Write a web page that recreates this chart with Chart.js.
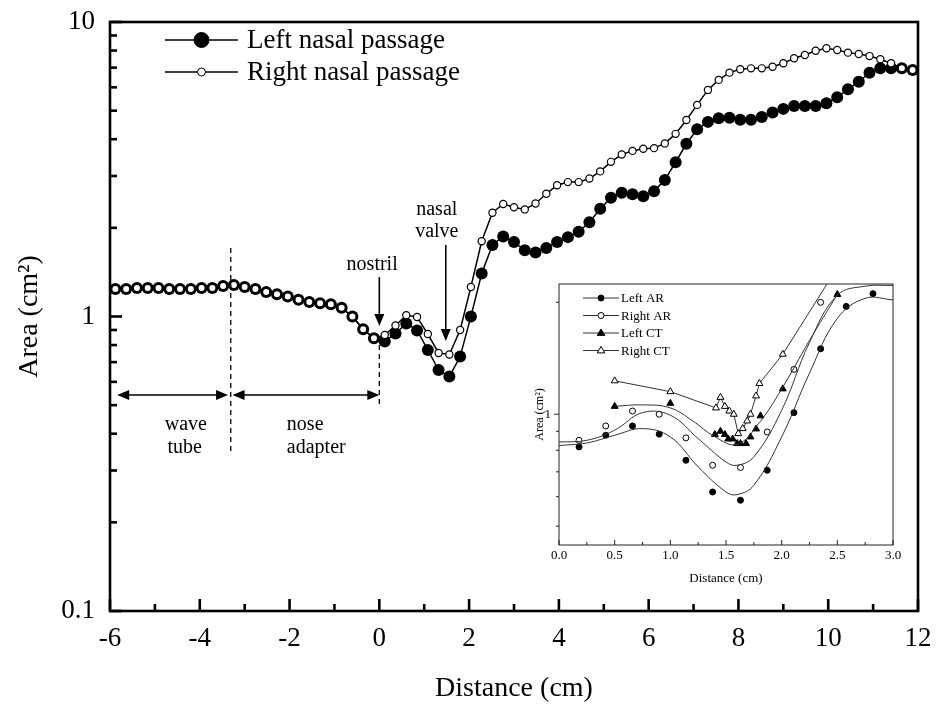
<!DOCTYPE html>
<html>
<head>
<meta charset="utf-8">
<title>Nasal cross-sectional area</title>
<script src="https://cdn.jsdelivr.net/npm/chart.js@4.4.0/dist/chart.umd.min.js"></script>
<style>
  body { margin: 0; background: #fff; }
  #wrap { position: relative; width: 944px; height: 705px; }
  #mainChart { position: absolute; left: 0; top: 0; }
  #insetChart { position: absolute; left: 500px; top: 274px; }
</style>
</head>
<body>
<div id="wrap">
  <canvas id="mainChart" width="944" height="705"></canvas>
  <canvas id="insetChart" width="410" height="326"></canvas>
</div>
<script>
// Main plot: acoustic area along the passage
const distance = [-5.88, -5.64, -5.40, -5.16, -4.92, -4.68, -4.44, -4.20, -3.96, -3.72,
  -3.48, -3.24, -3.00, -2.76, -2.52, -2.28, -2.04, -1.80, -1.56, -1.32,
  -1.08, -0.84, -0.60, -0.36, -0.12, 0.12, 0.36, 0.60, 0.84, 1.08,
  1.32, 1.56, 1.80, 2.04, 2.28, 2.52, 2.76, 3.00, 3.24, 3.48,
  3.72, 3.96, 4.20, 4.44, 4.68, 4.92, 5.16, 5.40, 5.64, 5.88,
  6.12, 6.36, 6.60, 6.84, 7.08, 7.32, 7.56, 7.80, 8.04, 8.28,
  8.52, 8.76, 9.00, 9.24, 9.48, 9.72, 9.96, 10.20, 10.44, 10.68,
  10.92, 11.16, 11.40, 11.64, 11.88];
const leftArea = [1.24, 1.24, 1.25, 1.25, 1.25, 1.24, 1.24, 1.24, 1.25, 1.25,
  1.27, 1.28, 1.26, 1.24, 1.21, 1.19, 1.17, 1.14, 1.12, 1.11,
  1.10, 1.07, 1.00, 0.905, 0.843, 0.822, 0.876, 0.947, 0.897, 0.770,
  0.658, 0.625, 0.731, 1.00, 1.40, 1.75, 1.87, 1.79, 1.68, 1.65,
  1.71, 1.79, 1.86, 1.94, 2.09, 2.32, 2.53, 2.63, 2.60, 2.56,
  2.66, 2.91, 3.34, 3.86, 4.32, 4.58, 4.71, 4.73, 4.66, 4.66,
  4.76, 4.93, 5.07, 5.19, 5.19, 5.19, 5.30, 5.55, 5.91, 6.27,
  6.73, 6.96, 6.96, 6.96, 6.87];
const rightArea = [1.24, 1.24, 1.25, 1.25, 1.25, 1.24, 1.24, 1.24, 1.25, 1.25,
  1.27, 1.28, 1.26, 1.24, 1.21, 1.19, 1.17, 1.14, 1.12, 1.11,
  1.10, 1.07, 1.00, 0.905, 0.843, 0.865, 0.932, 1.01, 0.996, 0.872,
  0.752, 0.743, 0.90, 1.26, 1.80, 2.25, 2.41, 2.35, 2.31, 2.42,
  2.61, 2.79, 2.86, 2.86, 2.94, 3.11, 3.35, 3.55, 3.65, 3.71,
  3.73, 3.87, 4.17, 4.65, 5.23, 5.88, 6.36, 6.73, 6.91, 6.96,
  6.96, 7.05, 7.24, 7.53, 7.73, 7.99, 8.14, 8.03, 7.87, 7.79,
  7.66, 7.47, 7.24, 6.96, 6.87];
const xTicks = [-6, -4, -2, 0, 2, 4, 6, 8, 10, 12];
const xMinorTicks = [-5, -3, -1, 1, 3, 5, 7, 9, 11];
const yTicks = [0.1, 1, 10];
const yMinorTicks = [0.2, 0.3, 0.4, 0.5, 0.6, 0.7, 0.8, 0.9, 2, 3, 4, 5, 6, 7, 8, 9];

// Inset: acoustic reflection (AR) vs CT
const leftArX = [0.18, 0.42, 0.66, 0.90, 1.14, 1.38, 1.63, 1.87, 2.11, 2.35, 2.58, 2.82];
const leftArY = [0.817, 0.878, 0.930, 0.884, 0.752, 0.618, 0.587, 0.707, 1.01, 1.50, 1.95, 2.11];
const rightArX = [0.18, 0.42, 0.66, 0.90, 1.14, 1.38, 1.63, 1.87, 2.11, 2.35];
const rightArY = [0.851, 0.930, 1.02, 1.00, 0.864, 0.729, 0.719, 0.896, 1.32, 2.00];
const leftCtX = [0.50, 1.00, 1.40, 1.45, 1.49, 1.52, 1.56, 1.60, 1.63, 1.68, 1.72, 1.77, 1.81, 2.01, 2.50];
const leftCtY = [1.05, 1.07, 0.882, 0.900, 0.882, 0.858, 0.858, 0.834, 0.834, 0.834, 0.869, 0.913, 0.990, 1.17, 2.10];
const rightCtX = [0.50, 1.00, 1.41, 1.45, 1.49, 1.53, 1.57, 1.61, 1.65, 1.69, 1.72, 1.77, 1.80, 2.01, 2.50];
const rightCtY = [1.23, 1.15, 1.04, 1.11, 1.05, 1.02, 1.00, 0.887, 0.915, 0.959, 1.00, 1.12, 1.21, 1.45, 2.48];
// fitted curves drawn through the AR / left CT points
const fitX = [0, 0.25, 0.5, 0.75, 1.0, 1.25, 1.5, 1.6, 1.75, 2.0, 2.25, 2.5, 2.75, 3.0];
const leftArFit = [0.824, 0.837, 0.878, 0.915, 0.869, 0.722, 0.618, 0.608, 0.644, 0.869, 1.29, 1.81, 2.05, 2.03];
const rightArFit = [0.842, 0.851, 0.906, 1.01, 0.994, 0.860, 0.744, 0.729, 0.768, 1.025, 1.56, 2.09, 2.21, 2.22];
const leftCtFitX = [0.5, 0.75, 1.0, 1.2, 1.4, 1.6, 1.8, 2.0, 2.25, 2.5];
const leftCtFit = [1.05, 1.06, 1.04, 0.96, 0.87, 0.83, 0.95, 1.17, 1.58, 2.10];
const insetXTicks = [0, 0.5, 1.0, 1.5, 2.0, 2.5, 3.0];
const insetXMinor = [0.25, 0.75, 1.25, 1.75, 2.25, 2.75];
const insetYTicks = [1];
const insetYMinor = [0.5, 0.6, 0.7, 0.8, 0.9, 2];

const SERIF = "'Liberation Serif', 'Times New Roman', serif";
const pts = (xs, ys) => xs.map((x, i) => ({ x: x, y: ys[i] }));

// Box around the plot plus tick marks at the given values
const frameTicks = {
    id: 'frameTicks',
    afterDraw(chart, args, o) {
        const { ctx, chartArea: a, scales } = chart;
        ctx.save();
        ctx.strokeStyle = o.color;
        ctx.lineWidth = o.width;
        ctx.strokeRect(a.left, a.top, a.right - a.left, a.bottom - a.top);
        const mark = (scale, vals, len, dir) => {
            vals.forEach(v => {
                const p = scale.getPixelForValue(v);
                ctx.beginPath();
                if (scale.axis === 'x') {
                    ctx.moveTo(p, a.bottom);
                    ctx.lineTo(p, a.bottom - len * dir);
                } else {
                    ctx.moveTo(a.left, p);
                    ctx.lineTo(a.left + len * dir, p);
                }
                ctx.stroke();
            });
        };
        mark(scales.x, o.xMajor, o.majorLen, o.xDir);
        mark(scales.x, o.xMinor, o.minorLen, o.xDir);
        mark(scales.y, o.yMajor, o.majorLen, o.yDir);
        mark(scales.y, o.yMinor, o.minorLen, o.yDir);
        ctx.restore();
    }
};

// Line + marker legend drawn inside the plot
const keyBox = {
    id: 'keyBox',
    afterDraw(chart, args, o) {
        const { ctx, chartArea: a } = chart;
        ctx.save();
        ctx.font = o.size + 'px ' + SERIF;
        ctx.textBaseline = 'middle';
        ctx.fillStyle = '#000';
        o.items.forEach((it, i) => {
            const y = a.top + o.top + i * o.gap;
            const x0 = a.left + o.left;
            ctx.strokeStyle = it.line;
            ctx.lineWidth = o.lineWidth;
            ctx.beginPath();
            ctx.moveTo(x0, y);
            ctx.lineTo(x0 + o.lineLen, y);
            ctx.stroke();
            const mx = x0 + o.lineLen / 2;
            ctx.beginPath();
            if (it.shape === 'triangle') {
                const r = it.r;
                ctx.moveTo(mx, y - r);
                ctx.lineTo(mx + r * 0.95, y + r * 0.6);
                ctx.lineTo(mx - r * 0.95, y + r * 0.6);
                ctx.closePath();
            } else {
                ctx.arc(mx, y, it.r, 0, Math.PI * 2);
            }
            ctx.fillStyle = it.fill ? '#000' : '#fff';
            ctx.fill();
            ctx.strokeStyle = '#000';
            ctx.lineWidth = 1;
            ctx.stroke();
            ctx.fillStyle = '#000';
            ctx.fillText(it.text, x0 + o.lineLen + o.textGap, y + 1);
        });
        ctx.restore();
    }
};

// Guides, arrows and notes on the main plot, placed in axis units
const notes = {
    id: 'notes',
    afterDraw(chart, args, o) {
        const { ctx, scales: { x, y } } = chart;
        const head = (tx, ty, ang) => {
            ctx.save();
            ctx.translate(tx, ty);
            ctx.rotate(ang);
            ctx.beginPath();
            ctx.moveTo(0, 0);
            ctx.lineTo(-12, -5);
            ctx.lineTo(-12, 5);
            ctx.closePath();
            ctx.fill();
            ctx.restore();
        };
        ctx.save();
        ctx.strokeStyle = '#000';
        ctx.fillStyle = '#000';
        ctx.lineWidth = 1.3;
        ctx.setLineDash([5, 4]);
        o.guides.forEach(g => {
            const px = x.getPixelForValue(g[0]);
            ctx.beginPath();
            ctx.moveTo(px, y.getPixelForValue(g[1]));
            ctx.lineTo(px, y.getPixelForValue(g[2]));
            ctx.stroke();
        });
        ctx.setLineDash([]);
        ctx.lineWidth = 1.6;
        o.spans.forEach(s => {
            const x1 = x.getPixelForValue(s[0]), x2 = x.getPixelForValue(s[1]);
            const py = y.getPixelForValue(s[2]);
            ctx.beginPath();
            ctx.moveTo(x1 + 6, py);
            ctx.lineTo(x2 - 6, py);
            ctx.stroke();
            head(x1, py, Math.PI);
            head(x2, py, 0);
        });
        o.pointers.forEach(p => {
            const px = x.getPixelForValue(p[0]);
            const y1 = y.getPixelForValue(p[1]), y2 = y.getPixelForValue(p[2]);
            ctx.beginPath();
            ctx.moveTo(px, y1);
            ctx.lineTo(px, y2 - 6);
            ctx.stroke();
            head(px, y2, Math.PI / 2);
        });
        ctx.font = o.size + 'px ' + SERIF;
        ctx.textBaseline = 'middle';
        o.labels.forEach(l => {
            ctx.textAlign = l[3];
            ctx.fillText(l[0], x.getPixelForValue(l[1]), y.getPixelForValue(l[2]));
        });
        ctx.restore();
    }
};

const mainChart = new Chart(document.getElementById('mainChart'), {
    type: 'scatter',
    data: {
        datasets: [{
            label: 'Left nasal passage',
            data: pts(distance, leftArea),
            showLine: true,
            borderColor: '#000',
            borderWidth: 1.5,
            pointRadius: 6,
            pointBackgroundColor: '#000',
            pointBorderColor: '#000',
            pointBorderWidth: 0,
            order: 2
        }, {
            label: 'Right nasal passage',
            data: pts(distance, rightArea),
            showLine: true,
            borderColor: '#000',
            borderWidth: 1.5,
            pointRadius: 3.6,
            pointBackgroundColor: '#fff',
            pointBorderColor: '#000',
            pointBorderWidth: 1.2,
            order: 1
        }]
    },
    options: {
        responsive: false,
        animation: false,
        events: [],
        layout: { padding: { top: 22, right: 26, left: 0, bottom: 0 } },
        plugins: {
            legend: { display: false },
            tooltip: { enabled: false },
            frameTicks: {
                color: '#000', width: 2.6, majorLen: 12, minorLen: 7, xDir: 1, yDir: 1,
                xMajor: xTicks, xMinor: xMinorTicks, yMajor: yTicks, yMinor: yMinorTicks
            },
            keyBox: {
                size: 27, top: 18, gap: 32, left: 55, lineLen: 73, textGap: 9, lineWidth: 1.4,
                items: [
                    { text: 'Left nasal passage', shape: 'circle', fill: true, r: 7.5, line: '#000' },
                    { text: 'Right nasal passage', shape: 'circle', fill: false, r: 4, line: '#000' }
                ]
            },
            notes: {
                size: 20,
                guides: [[-3.31, 1.71, 0.347], [0, 0.80, 0.50]],
                spans: [[-5.84, -3.37, 0.541], [-3.27, 0, 0.541]],
                pointers: [[0, 1.36, 0.928], [1.48, 1.75, 0.826]],
                labels: [
                    ['wave', -4.78, 0.428, 'left'], ['tube', -4.72, 0.358, 'left'],
                    ['nose', -2.06, 0.428, 'left'], ['adapter', -2.06, 0.358, 'left'],
                    ['nostril', -0.16, 1.50, 'center'],
                    ['nasal', 1.28, 2.30, 'center'], ['valve', 1.28, 1.94, 'center']
                ]
            }
        },
        scales: {
            x: {
                type: 'linear', min: -6, max: 12,
                afterBuildTicks: s => { s.ticks = xTicks.map(v => ({ value: v })); },
                afterFit: s => { s.height = 94; },
                grid: { display: false, drawTicks: false },
                border: { display: false },
                ticks: { color: '#000', padding: 12, font: { family: SERIF, size: 27 }, callback: v => String(v) },
                title: { display: true, text: 'Distance (cm)', color: '#000', font: { family: SERIF, size: 28 }, padding: { top: 0, bottom: 0 } }
            },
            y: {
                type: 'logarithmic', min: 0.1, max: 10,
                afterBuildTicks: s => { s.ticks = yTicks.map(v => ({ value: v })); },
                afterFit: s => { s.width = 110; },
                grid: { display: false, drawTicks: false },
                border: { display: false },
                // small lineHeight keeps the top label from pushing the plot down
                ticks: { color: '#000', padding: 15, font: { family: SERIF, size: 27, lineHeight: 0.5 }, callback: v => String(v) },
                title: { display: true, text: 'Area (cm²)', color: '#000', font: { family: SERIF, size: 28 }, padding: { top: 13, bottom: 0 } }
            }
        }
    },
    plugins: [frameTicks, keyBox, notes]
});

const lineOnly = (xs, ys) => ({
    data: pts(xs, ys), showLine: true, borderColor: '#333', borderWidth: 1,
    pointRadius: 0, tension: 0.4
});

const insetChart = new Chart(document.getElementById('insetChart'), {
    type: 'scatter',
    data: {
        datasets: [
            lineOnly(fitX, leftArFit),
            lineOnly(fitX, rightArFit),
            lineOnly(leftCtFitX, leftCtFit),
            { label: 'Left AR', data: pts(leftArX, leftArY), pointStyle: 'circle', pointRadius: 3,
              pointBackgroundColor: '#000', pointBorderColor: '#000', pointBorderWidth: 1 },
            { label: 'Right AR', data: pts(rightArX, rightArY), pointStyle: 'circle', pointRadius: 3,
              pointBackgroundColor: '#fff', pointBorderColor: '#000', pointBorderWidth: 1 },
            { label: 'Left CT', data: pts(leftCtX, leftCtY), pointStyle: 'triangle', pointRadius: 4,
              pointBackgroundColor: '#000', pointBorderColor: '#000', pointBorderWidth: 1 },
            { label: 'Right CT', data: pts(rightCtX, rightCtY), showLine: true, tension: 0,
              borderColor: '#333', borderWidth: 1, pointStyle: 'triangle', pointRadius: 4,
              pointBackgroundColor: '#fff', pointBorderColor: '#000', pointBorderWidth: 1 }
        ]
    },
    options: {
        responsive: false,
        animation: false,
        events: [],
        layout: { padding: { top: 10, right: 17, left: 0, bottom: 0 } },
        plugins: {
            legend: { display: false },
            tooltip: { enabled: false },
            frameTicks: {
                color: '#222', width: 1, majorLen: 5, minorLen: 3, xDir: 1, yDir: -1,
                xMajor: insetXTicks, xMinor: insetXMinor, yMajor: insetYTicks, yMinor: insetYMinor
            },
            keyBox: {
                size: 13, top: 14, gap: 17.5, left: 24, lineLen: 36, textGap: 2, lineWidth: 1,
                items: [
                    { text: 'Left AR', shape: 'circle', fill: true, r: 3, line: '#333' },
                    { text: 'Right AR', shape: 'circle', fill: false, r: 3, line: '#333' },
                    { text: 'Left CT', shape: 'triangle', fill: true, r: 4, line: '#333' },
                    { text: 'Right CT', shape: 'triangle', fill: false, r: 4, line: '#333' }
                ]
            }
        },
        scales: {
            x: {
                type: 'linear', min: 0, max: 3,
                afterBuildTicks: s => { s.ticks = insetXTicks.map(v => ({ value: v })); },
                afterFit: s => { s.height = 55; },
                grid: { display: false, drawTicks: false },
                border: { display: false },
                ticks: { color: '#000', padding: 3, font: { family: SERIF, size: 13 }, callback: v => v.toFixed(1) },
                title: { display: true, text: 'Distance (cm)', color: '#000', font: { family: SERIF, size: 13 }, padding: { top: 0, bottom: 14 } }
            },
            y: {
                type: 'logarithmic', min: 0.445, max: 2.24,
                afterBuildTicks: s => { s.ticks = insetYTicks.map(v => ({ value: v })); },
                afterFit: s => { s.width = 59; },
                grid: { display: false, drawTicks: false },
                border: { display: false },
                ticks: { color: '#000', padding: 8, font: { family: SERIF, size: 13, lineHeight: 0.2 }, callback: v => String(v) },
                title: { display: true, text: 'Area (cm²)', color: '#000', font: { family: SERIF, size: 12 }, padding: { top: 33, bottom: 0 } }
            }
        }
    },
    plugins: [frameTicks, keyBox]
});
</script>
</body>
</html>
